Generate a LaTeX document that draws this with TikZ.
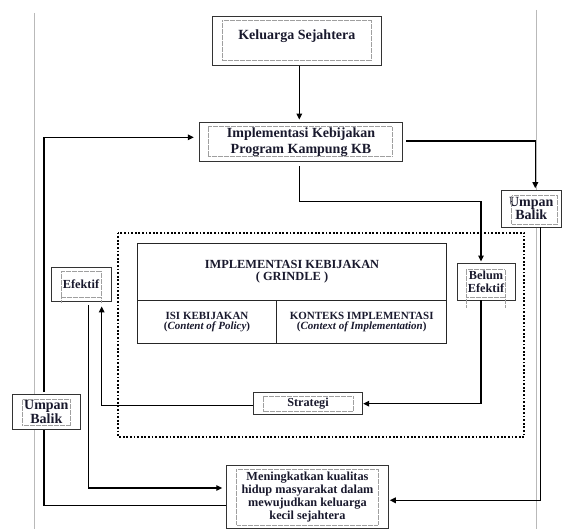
\documentclass[tikz,border=0pt]{standalone}
\usepackage{fontspec}
\setmainfont{Liberation Serif}
\usetikzlibrary{arrows.meta,calc}
\definecolor{txt}{RGB}{25,25,45}
\newcommand{\inbx}[5]{\draw[innerdot] ([xshift=#2pt,yshift=-#3pt]#1.north west) rectangle ([xshift=-#4pt,yshift=#5pt]#1.south east);}
\begin{document}
\begin{tikzpicture}[x=1pt,y=-1pt,
  box/.style={draw=black!80, line width=0.9pt, fill=white, inner sep=0pt, text=txt, align=center, font=\bfseries},
  cell/.style={draw=black!85, line width=0.6pt, inner sep=0pt, text=txt, align=center, font=\bfseries},
  innerdot/.style={draw=gray!75, line width=0.5pt, dash pattern=on 0.6pt off 0.6pt},
  guide/.style={draw=gray!55, line width=0.7pt},
  conn/.style={draw=black, line width=1.4pt},
  arr/.style={conn, -{Triangle[length=6pt,width=5.5pt]}},
  grp/.style={draw=black, line width=1.8pt, dash pattern=on 1.8pt off 1.8pt}
]
\useasboundingbox (0,0) rectangle (563,529);
% guide lines
\draw[guide] (34.7,13) -- (34.7,529);
\draw[guide] (536.7,10) -- (536.7,529);
% dotted group
\draw[grp] (118.3,232.7) rectangle (524.3,437);
% nodes
\node[box, minimum width=168.3pt, minimum height=48.6pt, text depth=12pt,
  font=\bfseries\fontsize{14}{16}\selectfont] (ks) at (296.85,41) {Keluarga Sejahtera};
\node[box, minimum width=203.4pt, minimum height=39.4pt,
  font=\bfseries\fontsize{14}{16}\selectfont] (impl) at (301,142) {Implementasi Kebijakan\\Program Kampung KB};
\node[box, minimum width=60.5pt, minimum height=36.7pt,
  font=\bfseries\fontsize{14}{13.3}\selectfont] (ubR) at (531.25,208.65) {Umpan\\Balik};
\node[box, minimum width=58pt, minimum height=36.7pt,
  font=\bfseries\fontsize{12.3}{13.3}\selectfont] (belum) at (486,281.65) {Belum\\Efektif};
\node[box, minimum width=60pt, minimum height=34.7pt,
  font=\bfseries\fontsize{12.3}{13.3}\selectfont] (ef) at (81,284.35) {Efektif};
\node[box, minimum width=67.3pt, minimum height=34.6pt,
  font=\bfseries\fontsize{14}{13.3}\selectfont] (ubL) at (46.35,412) {Umpan\\Balik};
\node[box, minimum width=109.4pt, minimum height=22.7pt,
  font=\bfseries\fontsize{12.2}{13}\selectfont] (strat) at (308,403.35) {Strategi};
\node[box, minimum width=161.6pt, minimum height=63pt,
  font=\bfseries\fontsize{12.3}{12.8}\selectfont] (mk) at (307.5,497) {Meningkatkan kualitas\\hidup masyarakat dalam\\mewujudkan keluarga\\kecil sejahtera};
% table
\node[cell, minimum width=309.4pt, minimum height=57pt,
  font=\bfseries\fontsize{12.4}{11.7}\selectfont] (hdr) at (292,271.8) {IMPLEMENTASI KEBIJAKAN\\( GRINDLE )};
\node[cell, minimum width=139.4pt, minimum height=43.4pt,
  font=\bfseries\fontsize{11}{10.5}\selectfont] (isi) at (207,322) {ISI KEBIJAKAN\\(\textit{Content of Policy})};
\node[cell, minimum width=170pt, minimum height=43.4pt,
  font=\bfseries\fontsize{11}{10.5}\selectfont] (kon) at (361.7,322) {KONTEKS IMPLEMENTASI\\(\textit{Context of Implementation})};
% inner dotted frames
\inbx{ks}{10}{4}{10}{5.3}
\inbx{impl}{9}{4.7}{10.7}{5.7}
\inbx{ubR}{11}{5.7}{4.5}{3.3}
\inbx{belum}{9.7}{6.7}{10.7}{3}
\inbx{ef}{10.7}{4.7}{10}{5}
\inbx{ubL}{10}{5.3}{10}{4}
\inbx{strat}{10}{5}{10}{3.7}
\draw[innerdot] ([xshift=10pt,yshift=-4pt]mk.north west) rectangle ([xshift=-10.6pt,yshift=4pt]mk.south east);
% tails
\draw[innerdot] ([xshift=9.7pt,yshift=3pt]belum.south west) -- ([xshift=9.7pt,yshift=-7.7pt]belum.south west);
\draw[innerdot] ([xshift=-10.7pt,yshift=3pt]belum.south east) -- ([xshift=-10.7pt,yshift=-7.7pt]belum.south east);
\draw[innerdot] ([xshift=10.7pt,yshift=5pt]ef.south west) -- ([xshift=10.7pt]ef.south west);
\draw[innerdot] ([xshift=-10pt,yshift=5pt]ef.south east) -- ([xshift=-10pt]ef.south east);
% connectors
\draw[arr, shorten >=2.3pt] ([xshift=2.45pt]ks.south) -- ([xshift=-1.7pt]impl.north);
\draw[arr, shorten <=2.7pt, shorten >=5pt] ([xshift=-2.35pt]ubL.north) |- ([yshift=4.7pt]impl.west);
\draw[conn] ([yshift=-8.5pt]mk.west) -| ([xshift=-2.35pt]ubL.south);
\draw[arr, shorten <=3.3pt, shorten >=1.6pt] ([yshift=1pt]impl.east) -| ([xshift=4.05pt]ubR.north);
\draw[arr, shorten >=1pt] ([xshift=9pt]ubR.south) |- ([yshift=-3.3pt]mk.east);
\draw[arr, shorten <=4pt, shorten >=1.3pt] ([xshift=-1.7pt]impl.south) -- ++(0,39.3) -| ([xshift=-5pt]belum.north);
\draw[arr] ([xshift=-5pt]belum.south) |- ([yshift=-0.35pt]strat.east);
\draw[arr, shorten >=4.3pt] ([yshift=-1.95pt]strat.west) -| ([xshift=20.7pt]ef.south);
\draw[arr, shorten <=3.3pt, shorten >=4pt] ([xshift=7.3pt]ef.south) |- ([yshift=9pt]mk.west);
\end{tikzpicture}
\end{document}
